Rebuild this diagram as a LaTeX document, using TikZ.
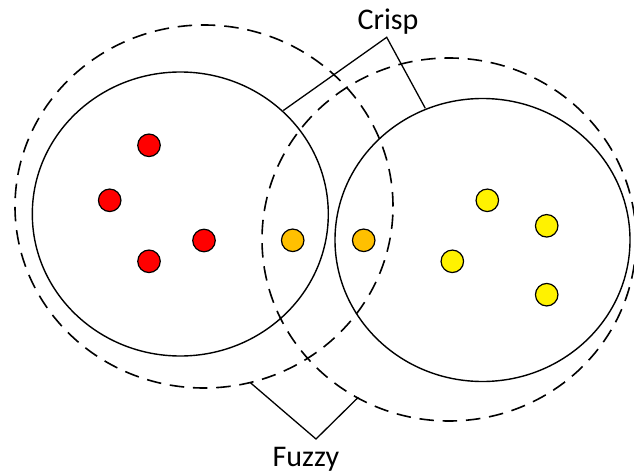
\documentclass[tikz,border=0pt]{standalone}
\usepackage{fontspec}
\setmainfont{Carlito}
\usetikzlibrary{shapes.geometric}
\definecolor{amber}{RGB}{255,192,0}
\tikzset{
  setline/.style={draw=black, line width=1.4pt, ellipse, inner sep=0pt, fill=none},
  fuzzyset/.style={setline, line width=1.6pt, dash pattern=on 14.5pt off 8.8pt},
  dot/.style={circle, draw=black, line width=1.2pt, minimum size=22.5pt, inner sep=0pt},
  reddot/.style={dot, fill=red},
  orangedot/.style={dot, fill=amber},
  yellowdot/.style={dot, fill=yellow},
  bracket/.style={draw=black, line width=1.3pt, line join=miter},
  lbl/.style={font=\fontsize{30}{36}\selectfont, inner sep=0pt, anchor=base}
}
\begin{document}
\begin{tikzpicture}[x=1pt, y=-1pt]
\useasboundingbox[fill=white] (0,0) rectangle (634,476);
% fuzzy (dashed) sets
\node[fuzzyset, minimum width=378pt, minimum height=363pt] (FL) at (204,206.5) {};
\node[fuzzyset, minimum width=374pt, minimum height=363pt] (FR) at (449,239.5) {};
% crisp (solid) sets
\node[setline, minimum width=296pt, minimum height=284pt] (CL) at (180.3,214) {};
\node[setline, minimum width=295pt, minimum height=283pt] (CR) at (482.5,240) {};
% labels
\node[lbl] (crisp) at (388,29.3) {Crisp};
\node[lbl] (fuzzy) at (306,466) {Fuzzy};
% bracket points
\coordinate (ca) at (386.7,37.3);
\coordinate (cl) at (283.3,110.5);
\coordinate (cr) at (425.3,108.3);
\coordinate (fa) at (316,439);
\coordinate (fl) at (250.5,382.8);
\coordinate (fr) at (358.3,397.3);
\draw[bracket] (cl) -- (ca) -- (cr);
\draw[bracket] (fl) -- (fa) -- (fr);
% points
\node[reddot] (r1) at (149,145.3) {};
\node[reddot] (r2) at (109.7,200.3) {};
\node[reddot] (r3) at (149,261.3) {};
\node[reddot] (r4) at (204,240.5) {};
\node[orangedot] (o1) at (292.7,240.3) {};
\node[orangedot] (o2) at (363.7,240.3) {};
\node[yellowdot] (y1) at (487.3,200.3) {};
\node[yellowdot] (y2) at (546.7,225.8) {};
\node[yellowdot] (y3) at (452.3,261.3) {};
\node[yellowdot] (y4) at (546.7,294.7) {};
\end{tikzpicture}
\end{document}
